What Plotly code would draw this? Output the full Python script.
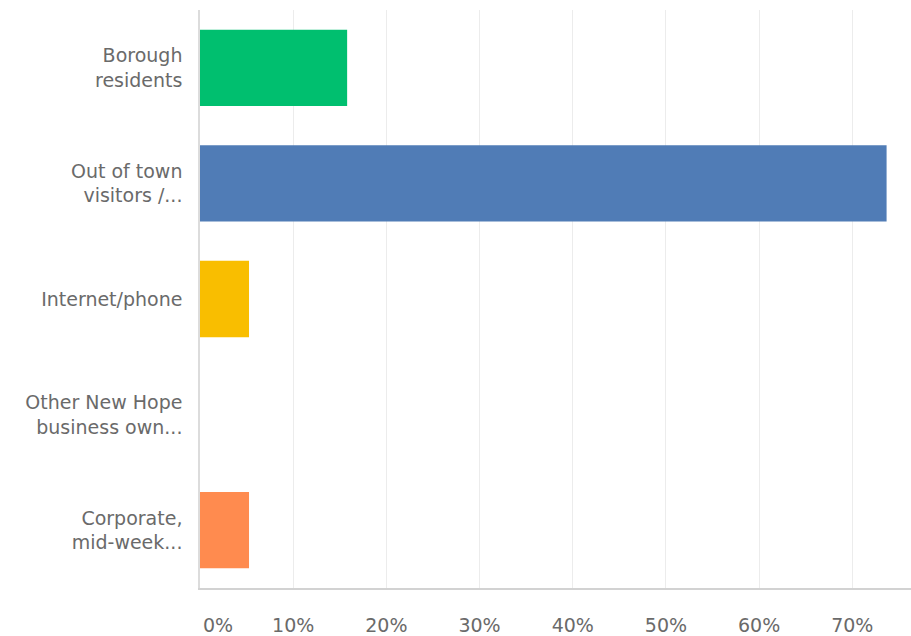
import plotly.graph_objects as go

# Survey answer choices and share of responses (percent)
categories = [
    "Borough<br>residents",
    "Out of town<br>visitors /...",
    "Internet/phone",
    "Other New Hope<br>business own...",
    "Corporate,<br>mid-week...",
]
values = [15.79, 73.68, 5.26, 0.0, 5.26]
bar_colors = ["#00bf6f", "#507cb6", "#f9be00", "#9aa0a6", "#ff8b4f"]
tick_vals = [10, 20, 30, 40, 50, 60, 70]
tick_text = ["10%", "20%", "30%", "40%", "50%", "60%", "70%"]

FONT = "DejaVu Sans"
TEXT = "#6a6a6a"
SIZE = 19

fig = go.Figure(
    go.Bar(
        x=values,
        y=categories,
        orientation="h",
        marker=dict(color=bar_colors, line=dict(width=0)),
        hoverinfo="x+y",
    )
)

fig.update_layout(
    width=911,
    height=636,
    margin=dict(l=200, r=0, t=10, b=44),
    paper_bgcolor="white",
    plot_bgcolor="white",
    bargap=0.34,
    showlegend=False,
    font=dict(family=FONT, size=SIZE, color=TEXT),
)

fig.update_xaxes(
    range=[0, 76.3],
    tickvals=tick_vals,
    ticktext=tick_text,
    showgrid=True,
    gridcolor="#ececec",
    gridwidth=1,
    zeroline=False,
    showline=True,
    linecolor="#d2d2d2",
    linewidth=2,
    ticks="",
    ticklabelstandoff=19,
    tickfont=dict(family=FONT, size=SIZE, color=TEXT),
    fixedrange=True,
)

fig.update_yaxes(
    autorange="reversed",
    showgrid=False,
    zeroline=False,
    showline=True,
    linecolor="#dcdcdc",
    linewidth=1.5,
    ticks="",
    ticklabelstandoff=12,
    tickfont=dict(family=FONT, size=SIZE, color=TEXT),
    fixedrange=True,
)

# Label for the zero position, set slightly to the right of the axis
fig.add_annotation(
    x=0,
    y=0,
    xref="x",
    yref="paper",
    text="0%",
    showarrow=False,
    xanchor="center",
    yanchor="middle",
    xshift=18,
    yshift=-37,
    font=dict(family=FONT, size=SIZE, color=TEXT),
)

fig.write_html("out.html")
